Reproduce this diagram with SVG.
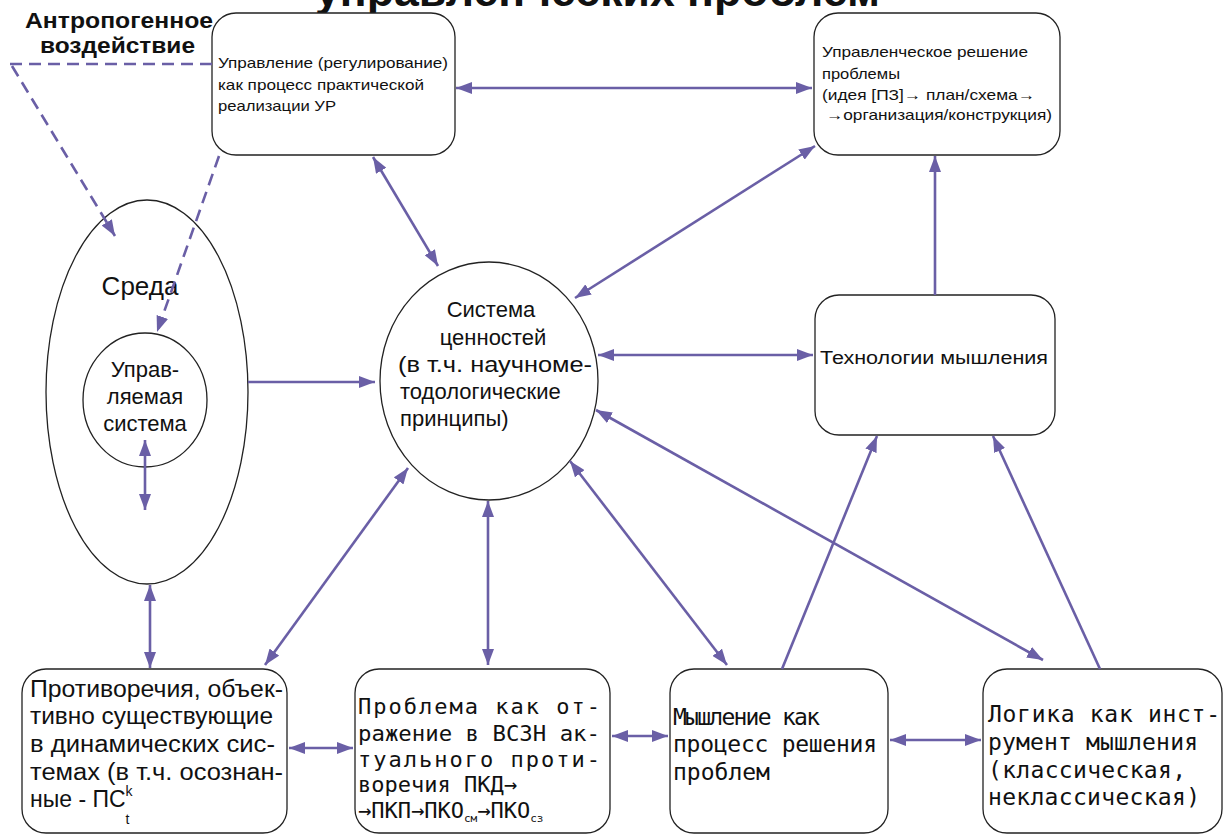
<svg xmlns="http://www.w3.org/2000/svg" width="1230" height="836" viewBox="0 0 1230 836">
<style>
.box{fill:#fff;stroke:#222;stroke-width:1.3}
.el{fill:#fff;stroke:#222;stroke-width:1.3}
.c{fill:none;stroke:#6a5fa6;stroke-width:2.6}
.d{fill:none;stroke:#6a5fa6;stroke-width:2.6;stroke-dasharray:12 7}
.s{font-family:"Liberation Sans",Arial,sans-serif;fill:#111}
.m{font-family:"DejaVu Sans Mono","Liberation Mono",monospace;fill:#111}
</style>
<defs>
<marker id="ah" viewBox="0 0 16 12" refX="16" refY="6" markerWidth="16" markerHeight="12" markerUnits="userSpaceOnUse" orient="auto-start-reverse">
<path d="M0,0 L16,6 L0,12 z" fill="#6a5fa6"/>
</marker>
</defs>
<rect width="1230" height="836" fill="#fff"/>

<g id="title">
<text class="s" x="315" y="6" font-size="44" font-weight="bold" textLength="565" lengthAdjust="spacingAndGlyphs">управленческих проблем</text>
</g>

<g id="anthropogenic">
<text class="s" x="25" y="28" font-size="22" font-weight="bold" textLength="188" lengthAdjust="spacingAndGlyphs">Антропогенное</text>
<text class="s" x="40" y="53" font-size="22" font-weight="bold" textLength="155" lengthAdjust="spacingAndGlyphs">воздействие</text>
</g>

<g id="sreda">
<ellipse class="el" cx="147" cy="392" rx="101" ry="192"/>
<text class="s" x="140" y="295" font-size="26" text-anchor="middle">Среда</text>
</g>

<g id="upr-system">
<ellipse class="el" cx="145" cy="400" rx="62" ry="67"/>
<text class="s" font-size="22" text-anchor="middle"><tspan x="145" y="377">Управ-</tspan><tspan x="145" y="404">ляемая</tspan><tspan x="145" y="431">система</tspan></text>
</g>

<g id="upravlenie">
<rect class="box" x="212" y="13" width="243" height="142" rx="24"/>
<text class="s" font-size="15"><tspan x="218" y="68" textLength="230" lengthAdjust="spacingAndGlyphs">Управление (регулирование)</tspan><tspan x="218" y="90" textLength="206" lengthAdjust="spacingAndGlyphs">как процесс практической</tspan><tspan x="218" y="111" textLength="118" lengthAdjust="spacingAndGlyphs">реализации УР</tspan></text>
</g>

<g id="ur-problem">
<rect class="box" x="814" y="13" width="246" height="142" rx="24"/>
<text class="s" font-size="15"><tspan x="822" y="57" textLength="206" lengthAdjust="spacingAndGlyphs">Управленческое решение</tspan><tspan x="822" y="79" textLength="78" lengthAdjust="spacingAndGlyphs">проблемы</tspan><tspan x="822" y="100" textLength="213" lengthAdjust="spacingAndGlyphs">(идея [ПЗ]→ план/схема→</tspan><tspan x="826" y="120" textLength="226" lengthAdjust="spacingAndGlyphs">→организация/конструкция)</tspan></text>
</g>

<g id="values">
<ellipse class="el" cx="489" cy="381" rx="109" ry="119"/>
<text class="s" font-size="22"><tspan x="491" y="317" text-anchor="middle">Система</tspan><tspan x="493" y="345" text-anchor="middle">ценностей</tspan><tspan x="398" y="372" textLength="194" lengthAdjust="spacingAndGlyphs">(в т.ч. научноме-</tspan><tspan x="400" y="399">тодологические</tspan><tspan x="400" y="426">принципы)</tspan></text>
</g>

<g id="tech">
<rect class="box" x="815" y="295" width="240" height="140" rx="24"/>
<text class="s" x="820" y="364" font-size="18" textLength="228" lengthAdjust="spacingAndGlyphs">Технологии мышления</text>
</g>

<g id="contradictions">
<rect class="box" x="22" y="669" width="265" height="164" rx="24"/>
<text class="s" font-size="23"><tspan x="30" y="697" textLength="253" lengthAdjust="spacingAndGlyphs">Противоречия, объек-</tspan><tspan x="30" y="724" textLength="243" lengthAdjust="spacingAndGlyphs">тивно существующие</tspan><tspan x="30" y="752" textLength="245" lengthAdjust="spacingAndGlyphs">в динамических сис-</tspan><tspan x="30" y="780" textLength="253" lengthAdjust="spacingAndGlyphs">темах (в т.ч. осознан-</tspan><tspan x="30" y="807">ные - ПС</tspan><tspan font-size="14" dy="-11">k</tspan><tspan font-size="14" dx="-7" dy="28">t</tspan></text>
</g>

<g id="problem">
<rect class="box" x="355" y="669" width="255" height="164" rx="24"/>
<text class="m" font-size="22"><tspan x="358" y="714" textLength="242" lengthAdjust="spacing">Проблема как от-</tspan><tspan x="358" y="741" textLength="242" lengthAdjust="spacingAndGlyphs">ражение в ВСЗН ак-</tspan><tspan x="358" y="767" textLength="242" lengthAdjust="spacing">туального проти-</tspan><tspan x="358" y="792">воречия ПКД→</tspan><tspan x="358" y="818">→ПКП→ПКО</tspan><tspan font-size="11" dy="4">см</tspan><tspan dy="-4">→ПКО</tspan><tspan font-size="11" dy="4">сз</tspan></text>
</g>

<g id="thinking">
<rect class="box" x="670" y="669" width="218" height="164" rx="24"/>
<text class="m" font-size="23"><tspan x="673" y="725" textLength="147" lengthAdjust="spacing">Мышление как</tspan><tspan x="673" y="752" textLength="204" lengthAdjust="spacing">процесс решения</tspan><tspan x="673" y="780">проблем</tspan></text>
</g>

<g id="logic">
<rect class="box" x="983" y="669" width="239" height="164" rx="24"/>
<text class="m" font-size="23"><tspan x="988" y="722" textLength="232" lengthAdjust="spacing">Логика как инст-</tspan><tspan x="988" y="750" textLength="210" lengthAdjust="spacing">румент мышления</tspan><tspan x="988" y="778" textLength="198" lengthAdjust="spacing">(классическая,</tspan><tspan x="988" y="805" textLength="212" lengthAdjust="spacing">неклассическая)</tspan></text>
</g>

<g id="connectors">
<line class="d" x1="10" y1="64" x2="212" y2="64"/>
<line class="d" x1="12" y1="66" x2="115" y2="236" marker-end="url(#ah)"/>
<line class="d" x1="219" y1="156" x2="157" y2="332" marker-end="url(#ah)"/>
<line class="c" x1="456" y1="88" x2="812" y2="88" marker-start="url(#ah)" marker-end="url(#ah)"/>
<line class="c" x1="373" y1="157" x2="438" y2="266" marker-start="url(#ah)" marker-end="url(#ah)"/>
<line class="c" x1="815" y1="146" x2="575" y2="298" marker-start="url(#ah)" marker-end="url(#ah)"/>
<line class="c" x1="935" y1="295" x2="935" y2="156" marker-end="url(#ah)"/>
<line class="c" x1="598" y1="355" x2="813" y2="355" marker-start="url(#ah)" marker-end="url(#ah)"/>
<line class="c" x1="248" y1="382" x2="375" y2="382" marker-end="url(#ah)"/>
<line class="c" x1="145" y1="440" x2="145" y2="510" marker-start="url(#ah)" marker-end="url(#ah)"/>
<line class="c" x1="150" y1="585" x2="150" y2="668" marker-start="url(#ah)" marker-end="url(#ah)"/>
<line class="c" x1="408" y1="468" x2="265" y2="665" marker-start="url(#ah)" marker-end="url(#ah)"/>
<line class="c" x1="488" y1="501" x2="488" y2="665" marker-start="url(#ah)" marker-end="url(#ah)"/>
<line class="c" x1="570" y1="461" x2="727" y2="665" marker-start="url(#ah)" marker-end="url(#ah)"/>
<line class="c" x1="596" y1="410" x2="1043" y2="660" marker-start="url(#ah)" marker-end="url(#ah)"/>
<line class="c" x1="782" y1="669" x2="877" y2="436" marker-end="url(#ah)"/>
<line class="c" x1="1100" y1="669" x2="993" y2="436" marker-end="url(#ah)"/>
<line class="c" x1="289" y1="748" x2="353" y2="748" marker-start="url(#ah)" marker-end="url(#ah)"/>
<line class="c" x1="612" y1="736" x2="668" y2="736" marker-start="url(#ah)" marker-end="url(#ah)"/>
<line class="c" x1="890" y1="740" x2="981" y2="740" marker-start="url(#ah)" marker-end="url(#ah)"/>
</g>
</svg>
